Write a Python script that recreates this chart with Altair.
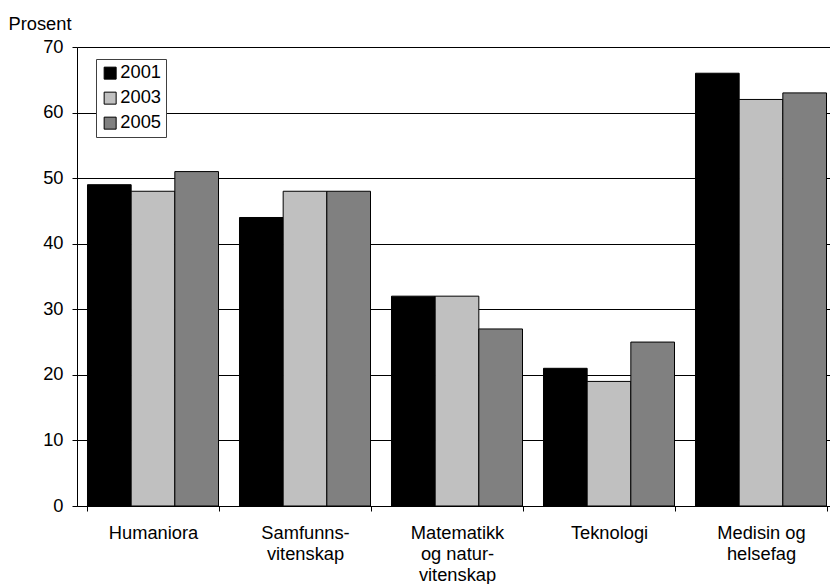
import altair as alt
import pandas as pd

# Fields of study (line breaks are drawn as multi-line axis labels)
categories = [
    "Humaniora",
    "Samfunns-\nvitenskap",
    "Matematikk\nog natur-\nvitenskap",
    "Teknologi",
    "Medisin og\nhelsefag",
]
years = ["2001", "2003", "2005"]
values_2001 = [49, 44, 32, 21, 66]
values_2003 = [48, 48, 32, 19, 62]
values_2005 = [51, 48, 27, 25, 63]
year_colors = ["#000000", "#c0c0c0", "#808080"]
y_ticks = [0, 10, 20, 30, 40, 50, 60, 70]

rows = []
for year, vals in zip(years, [values_2001, values_2003, values_2005]):
    for cat, v in zip(categories, vals):
        rows.append({"fag": cat, "aar": year, "prosent": v})
df = pd.DataFrame(rows)

FONT = "Liberation Sans"
FS = 18.3

chart = (
    alt.Chart(df)
    .mark_bar(stroke="#000000", strokeWidth=1)
    .encode(
        x=alt.X(
            "fag:N",
            sort=categories,
            scale=alt.Scale(range=[0, 760], paddingInner=0.138, paddingOuter=0.069),
            axis=alt.Axis(
                title=None,
                labelAngle=0,
                labelExpr="isValid(datum.value) ? split(datum.value, '\\n') : ''",
                tickBand="extent",
                tickSize=5,
                tickColor="#000000",
                domainColor="#000000",
                labelFont=FONT,
                labelFontSize=FS,
                labelColor="#000000",
                labelBaseline="top",
                labelLineHeight=21,
                labelPadding=13,
                grid=False,
            ),
        ),
        xOffset=alt.XOffset("aar:N", sort=years),
        y=alt.Y(
            "prosent:Q",
            scale=alt.Scale(domain=[0, 70], nice=False),
            axis=alt.Axis(
                values=y_ticks,
                title="Prosent",
                titleAngle=0,
                titleAlign="left",
                titleBaseline="alphabetic",
                titleX=-69,
                titleY=-18,
                titleFont=FONT,
                titleFontSize=FS,
                titleFontWeight="normal",
                titleColor="#000000",
                tickSize=5,
                tickColor="#000000",
                domainColor="#000000",
                labelFont=FONT,
                labelFontSize=FS,
                labelColor="#000000",
                labelPadding=9,
                grid=True,
                gridColor="#000000",
                gridWidth=1,
                gridOpacity=1,
            ),
        ),
        color=alt.Color(
            "aar:N",
            scale=alt.Scale(domain=years, range=year_colors),
            legend=alt.Legend(
                title=None,
                orient="none",
                legendX=19,
                legendY=12,
                direction="vertical",
                fillColor="#ffffff",
                strokeColor="#404040",
                padding=5,
                symbolType="square",
                symbolSize=144,
                symbolStrokeColor="#000000",
                symbolStrokeWidth=1,
                symbolOpacity=1,
                labelFont=FONT,
                labelFontSize=FS,
                labelColor="#000000",
                labelOffset=1,
                rowPadding=6,
            ),
        ),
    )
    .properties(
        width=753,
        height=459,
        autosize=alt.AutoSizeParams(type="none"),
        padding={"left": 77, "top": 47, "right": 0, "bottom": 78},
    )
    .configure_view(stroke=None)
    .configure(background="#ffffff")
)

chart.save("out.html", embed_options={"renderer": "svg", "actions": False})
